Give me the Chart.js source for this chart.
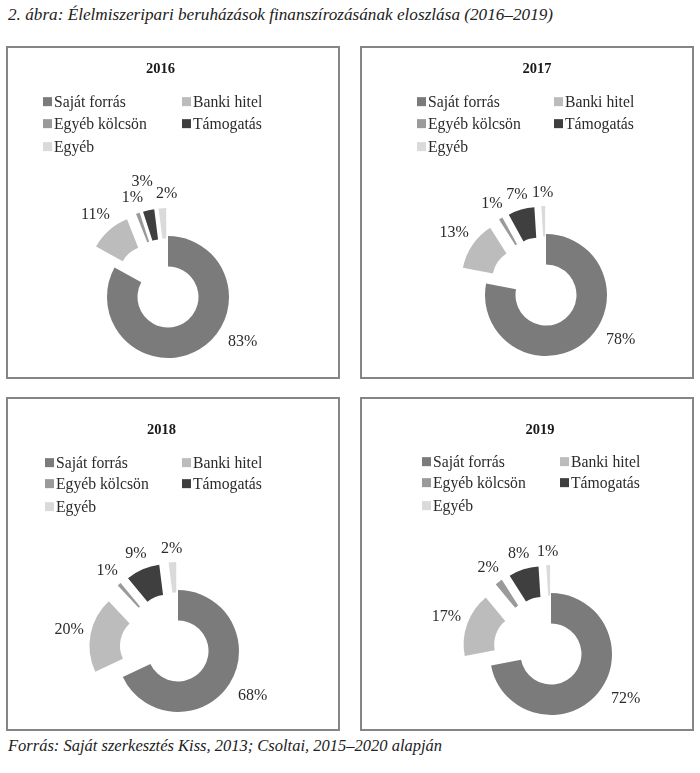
<!DOCTYPE html>
<html>
<head>
<meta charset="utf-8">
<script src="https://cdn.jsdelivr.net/npm/chart.js@4.4.1/dist/chart.umd.min.js"></script>
<style>
html,body{margin:0;padding:0;background:#fff;}
body{width:700px;height:773px;position:relative;overflow:hidden;font-family:"Liberation Serif","DejaVu Serif",serif;color:#262626;}
#caption{position:absolute;left:8px;top:5px;font-style:italic;font-size:17.2px;line-height:20px;white-space:nowrap;color:#222;}
#source{position:absolute;left:8px;top:736px;font-style:italic;font-size:16.5px;line-height:20px;white-space:nowrap;color:#222;}
.panel{position:absolute;box-sizing:border-box;border:2px solid #858585;overflow:hidden;background:#fff;}
.panel canvas{position:absolute;left:0;top:0;}
.ptitle{position:absolute;font-weight:bold;font-size:14.5px;transform:translate(-50%,-50%);white-space:nowrap;color:#1a1a1a;}
.lg{position:absolute;font-size:15.7px;white-space:nowrap;transform:translateY(-50%);display:flex;align-items:center;color:#2b2b2b;line-height:1;}
.lg i{display:inline-block;width:9px;height:9px;margin-right:2px;}
</style>
</head>
<body>
<div id="caption">2. ábra: Élelmiszeripari beruházások finanszírozásának eloszlása (2016–2019)</div>
<div id="source">Forrás: Saját szerkesztés Kiss, 2013; Csoltai, 2015–2020 alapján</div>
<script>
// ---- data ----
const categories = ['Saját forrás', 'Banki hitel', 'Egyéb kölcsön', 'Támogatás', 'Egyéb'];
const years = ['2016', '2017', '2018', '2019'];
const values2016 = [83, 11, 1, 3, 2];
const values2017 = [78, 13, 1, 7, 1];
const values2018 = [68, 20, 1, 9, 2];
const values2019 = [72, 17, 2, 8, 1];
const seriesValues = [values2016, values2017, values2018, values2019];

// ---- styles / layout ----
const sliceColors = ['#7b7b7b', '#bcbcbc', '#9a9a9a', '#3f3f3f', '#dadada'];
const BORDER = 2;
const EXPLODE = 28;
const RADIUS = 61;
const LABEL_FONT = '16px "Liberation Serif", serif';
const LABEL_H = 14;
const LABEL_PAD = 6;
const LABEL_MARGIN = 2;
const MAX_RADIAL_PUSH = 15;
const BIG_LABEL_ANGLE = 31 * Math.PI / 180; // canvas angle for the largest slice label
const BIG_LABEL_GAP = 26;

const panelLayout = [
  {left: 6,   top: 46,  w: 334, h: 333, titleX: 154.5, titleY: 22,   col1: 37,  col2: 176, rows: [56, 78, 100.5],  cx: 162, cy: 251},
  {left: 360, top: 46,  w: 334, h: 333, titleX: 177,   titleY: 22,   col1: 57,  col2: 194, rows: [56, 78, 100.5],  cx: 186, cy: 249},
  {left: 6,   top: 397, w: 334, h: 334, titleX: 155.5, titleY: 32,   col1: 39,  col2: 176, rows: [65.5, 87, 109.5], cx: 172, cy: 254},
  {left: 360, top: 397, w: 334, h: 334, titleX: 180,   titleY: 32,   col1: 62,  col2: 200, rows: [64.5, 86, 108.5], cx: 191, cy: 257}
];

function overlaps(a, list) {
  return list.some(b => Math.abs(a.x - b.x) < (a.w + b.w) / 2 + LABEL_MARGIN &&
                        Math.abs(a.y - b.y) < (a.h + b.h) / 2 + LABEL_MARGIN);
}

const explodePlugin = {
  id: 'explodeLabels',
  beforeDatasetDraw(chart, args) {
    const ctx = chart.ctx;
    args.meta.data.forEach((arc, i) => {
      const d = i === 0 ? 0 : EXPLODE;
      const mid = (arc.startAngle + arc.endAngle) / 2;
      ctx.save();
      ctx.translate(Math.cos(mid) * d, Math.sin(mid) * d);
      arc.draw(ctx);
      ctx.restore();
    });
    return false;
  },
  afterDatasetsDraw(chart) {
    const meta = chart.getDatasetMeta(0);
    const data = chart.data.datasets[0].data;
    const ctx = chart.ctx;
    ctx.save();
    ctx.font = LABEL_FONT;
    ctx.fillStyle = '#2b2b2b';
    ctx.textAlign = 'center';
    ctx.textBaseline = 'middle';
    const placed = [];
    meta.data.forEach((arc, i) => {
      const txt = data[i] + '%';
      const w = ctx.measureText(txt).width;
      let ang, dist;
      if (i === 0) {
        ang = BIG_LABEL_ANGLE;
        dist = arc.outerRadius + BIG_LABEL_GAP;
      } else {
        ang = (arc.startAngle + arc.endAngle) / 2;
        dist = EXPLODE + arc.outerRadius + LABEL_PAD +
               Math.abs(Math.cos(ang)) * w / 2 + Math.abs(Math.sin(ang)) * LABEL_H / 2;
      }
      const c = Math.cos(ang), s = Math.sin(ang);
      let box = {x: arc.x + c * dist, y: arc.y + s * dist, w: w, h: LABEL_H};
      if (overlaps(box, placed)) {
        let solved = false;
        for (let p = 1; p <= MAX_RADIAL_PUSH; p++) {
          const cand = {x: box.x + c * p, y: box.y + s * p, w: w, h: LABEL_H};
          if (!overlaps(cand, placed)) { box = cand; solved = true; break; }
        }
        if (!solved) {
          for (let p = 1; p <= 60; p++) {
            const cand = {x: box.x - s * p, y: box.y + c * p, w: w, h: LABEL_H};
            if (!overlaps(cand, placed)) { box = cand; break; }
          }
        }
      }
      placed.push(box);
      ctx.fillText(txt, box.x, box.y);
    });
    ctx.restore();
  }
};

years.forEach((year, k) => {
  const L = panelLayout[k];
  const panel = document.createElement('div');
  panel.className = 'panel';
  panel.style.left = L.left + 'px';
  panel.style.top = L.top + 'px';
  panel.style.width = L.w + 'px';
  panel.style.height = L.h + 'px';
  document.body.appendChild(panel);

  const W = L.w - 2 * BORDER, H = L.h - 2 * BORDER;
  const canvas = document.createElement('canvas');
  canvas.width = W; canvas.height = H;
  canvas.style.width = W + 'px'; canvas.style.height = H + 'px';
  panel.appendChild(canvas);

  const t = document.createElement('div');
  t.className = 'ptitle';
  t.textContent = year;
  t.style.left = (L.titleX - BORDER) + 'px';
  t.style.top = (L.titleY - BORDER) + 'px';
  panel.appendChild(t);

  categories.forEach((cat, i) => {
    const item = document.createElement('div');
    item.className = 'lg';
    const sw = document.createElement('i');
    sw.style.background = sliceColors[i];
    item.appendChild(sw);
    item.appendChild(document.createTextNode(cat));
    item.style.left = ((i % 2 === 0 ? L.col1 : L.col2) - BORDER) + 'px';
    item.style.top = (L.rows[Math.floor(i / 2)] - BORDER) + 'px';
    panel.appendChild(item);
  });

  const cx = L.cx - BORDER, cy = L.cy - BORDER;
  new Chart(canvas, {
    type: 'doughnut',
    data: {
      labels: categories,
      datasets: [{data: seriesValues[k], backgroundColor: sliceColors, borderWidth: 0}]
    },
    options: {
      responsive: false,
      animation: false,
      events: [],
      radius: RADIUS,
      cutout: '50%',
      layout: {padding: {left: cx - 90, right: W - cx - 90, top: cy - 70, bottom: H - cy - 70}},
      plugins: {legend: {display: false}, title: {display: false}, tooltip: {enabled: false}}
    },
    plugins: [explodePlugin]
  });
});
</script>
</body>
</html>
